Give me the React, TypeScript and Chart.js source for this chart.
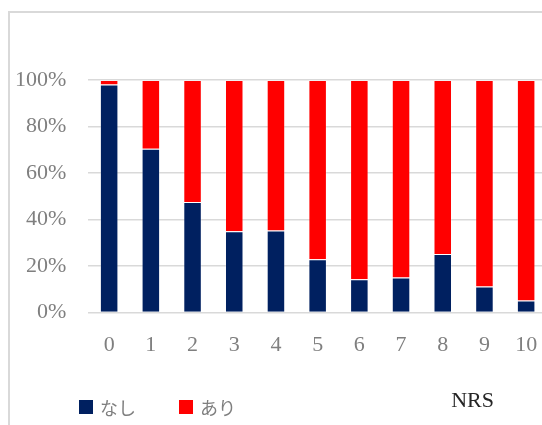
import React, { useEffect, useRef } from "react";
import { Chart, registerables } from "chart.js";

Chart.register(...registerables);

// NRS score categories (0–10)
const categories: string[] = ["0", "1", "2", "3", "4", "5", "6", "7", "8", "9", "10"];

// Share of respondents per NRS score, in percent
const nashiValues: number[] = [98.1, 70.4, 47.5, 35.0, 35.3, 22.9, 14.3, 15.1, 25.2, 11.2, 5.2];
const ariValues: number[] = [1.9, 29.6, 52.5, 65.0, 64.7, 77.1, 85.7, 84.9, 74.8, 88.8, 94.8];

const seriesNames: string[] = ["なし", "あり"];
const seriesColors: string[] = ["#002060", "#FF0000"];

const yTicks: number[] = [0, 20, 40, 60, 80, 100];
const axisTitle = "NRS";

const serif = '"Liberation Serif", "Times New Roman", serif';
const jpFont = '"Noto Sans CJK JP", sans-serif';
const labelGray = "#7f7f7f";

// Legend row under the plot: square swatch + series name, left aligned
const bottomLegend = {
  id: "bottomLegend",
  afterDraw(chart: Chart) {
    const { ctx } = chart;
    const box = 14;
    const rowMid = 394;
    let x = 69;
    ctx.save();
    ctx.font = `18px ${jpFont}`;
    ctx.textAlign = "left";
    ctx.textBaseline = "middle";
    chart.data.datasets.forEach((ds: any) => {
      ctx.fillStyle = ds.backgroundColor;
      ctx.fillRect(x, rowMid - box / 2, box, box);
      ctx.fillStyle = labelGray;
      const tx = x + box + 7;
      ctx.fillText(ds.label, tx, rowMid + 1);
      x = tx + ctx.measureText(ds.label).width + 43;
    });
    ctx.restore();
  },
};

// Axis caption drawn under the plot, towards the right
const axisCaption = {
  id: "axisCaption",
  afterDraw(chart: Chart) {
    const { ctx, chartArea } = chart;
    ctx.save();
    ctx.font = `22px ${serif}`;
    ctx.fillStyle = "#262626";
    ctx.textAlign = "right";
    ctx.textBaseline = "alphabetic";
    ctx.fillText(axisTitle, chartArea.right - 53, 394);
    ctx.restore();
  },
};

export default function App() {
  const canvasRef = useRef<HTMLCanvasElement | null>(null);

  useEffect(() => {
    const canvas = canvasRef.current;
    if (!canvas) return;
    const chart = new Chart(canvas, {
      type: "bar",
      data: {
        labels: categories,
        datasets: [
          {
            label: seriesNames[0],
            data: nashiValues,
            backgroundColor: seriesColors[0],
            borderColor: "rgba(255,255,255,0.25)",
            borderWidth: 1,
            categoryPercentage: 1,
            barPercentage: 0.444,
          },
          {
            label: seriesNames[1],
            data: ariValues,
            backgroundColor: seriesColors[1],
            borderColor: "rgba(255,255,255,0.25)",
            borderWidth: 1,
            categoryPercentage: 1,
            barPercentage: 0.444,
          },
        ],
      },
      options: {
        responsive: false,
        animation: false,
        devicePixelRatio: 1,
        layout: {
          padding: { left: 0, right: 12, top: 67, bottom: 56 },
        },
        plugins: {
          tooltip: { enabled: false },
          legend: { display: false },
        },
        scales: {
          x: {
            stacked: true,
            offset: true,
            grid: { display: false, drawTicks: false },
            border: { display: false },
            ticks: {
              color: labelGray,
              padding: 19,
              font: { family: serif, size: 22 },
              maxRotation: 0,
            },
          },
          y: {
            stacked: true,
            min: yTicks[0],
            max: yTicks[yTicks.length - 1],
            afterFit(scale: any) {
              scale.width = 78.3;
            },
            afterBuildTicks(scale: any) {
              scale.ticks = yTicks.map((v) => ({ value: v }));
            },
            grid: { color: "#d9d9d9", lineWidth: 1.5, drawTicks: false },
            border: { display: false },
            ticks: {
              color: labelGray,
              padding: 22,
              font: { family: serif, size: 22 },
              callback: (v: any) => `${v}%`,
            },
          },
        },
      },
      plugins: [bottomLegend, axisCaption],
    });
    return () => chart.destroy();
  }, []);

  return (
    <div
      style={{
        position: "fixed",
        left: 0,
        top: 0,
        width: 542,
        height: 425,
        overflow: "hidden",
        background: "#ffffff",
      }}
    >
      <div
        style={{
          position: "absolute",
          left: 8,
          top: 11,
          width: 580,
          height: 460,
          boxSizing: "border-box",
          border: "2px solid #d9d9d9",
        }}
      >
        <canvas
          ref={canvasRef}
          width={549}
          height={420}
          style={{ position: "absolute", left: 0, top: 0, width: 549, height: 420 }}
        />
      </div>
    </div>
  );
}
